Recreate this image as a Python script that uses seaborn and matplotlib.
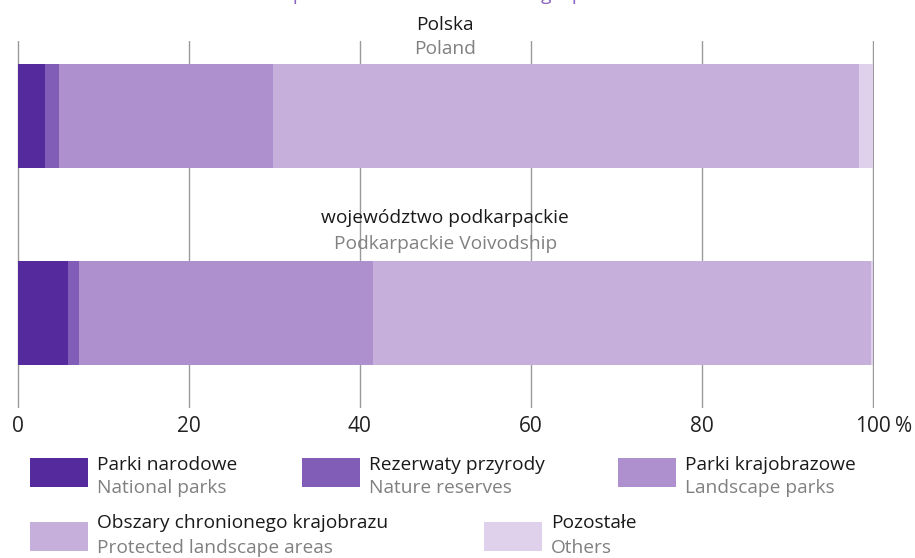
import pandas as pd
import seaborn as sns
import matplotlib.pyplot as plt
from matplotlib.patches import Rectangle

# dane (udzial w %)
regions = ['Polska', 'województwo podkarpackie']
regions_en = ['Poland', 'Podkarpackie Voivodship']

categories = ['Parki narodowe', 'Rezerwaty przyrody', 'Parki krajobrazowe',
              'Obszary chronionego krajobrazu', 'Pozostałe']
categories_en = ['National parks', 'Nature reserves', 'Landscape parks',
                 'Protected landscape areas', 'Others']

national_parks = [3.2, 5.9]
nature_reserves = [1.6, 1.3]
landscape_parks = [25.1, 34.3]
protected_landscape = [68.4, 58.2]
others = [1.7, 0.3]

ticks = [0, 20, 40, 60, 80, 100]
colors = ['#552a9c', '#815db8', '#ae90ce', '#c6afdb', '#dfd0ec']

df = pd.DataFrame({'region': regions})
for cat, vals in zip(categories, [national_parks, nature_reserves, landscape_parks,
                                  protected_landscape, others]):
    df[cat] = vals
cum = df[categories].cumsum(axis=1)
cum['region'] = regions

W, H = 915, 558
fig = plt.figure(figsize=(W / 100, H / 100), dpi=100)
plt.rcParams['font.family'] = ['Open Sans', 'DejaVu Sans']
FS = 13.8

def fx(px):
    return px / W

def fy(py):
    return 1 - py / H

ax = fig.add_axes([fx(16.7), fy(408), fx(874) - fx(16.7), (408 - 41) / H])

# stos: najpierw najdluzsze sumy, potem krotsze na wierzchu
for cat, col in reversed(list(zip(categories, colors))):
    sns.barplot(data=cum, x=cat, y='region', color=col, saturation=1,
                orient='h', width=0.53, errorbar=None, ax=ax)

ax.set_xlim(-0.1, 100.1)
ax.set_ylim(1.482, -0.38)
ax.set_xticks(ticks)
ax.set_xticklabels([str(t) for t in ticks])
ax.set_yticks([])
ax.set_xlabel('')
ax.set_ylabel('')
for s in ax.spines.values():
    s.set_visible(False)
ax.grid(axis='x', color='#9a9a9a', lw=1)
ax.set_axisbelow(True)
ax.tick_params(axis='x', length=0, pad=6, labelsize=15, labelcolor='#222222')
ax.annotate('%', xy=(103.6, 0), xycoords=('data', 'axes fraction'),
            xytext=(0, -6), textcoords='offset points', ha='center', va='top',
            fontsize=15, color='#222222', annotation_clip=False)

# podpisy regionow
label_y = [(-0.461, -0.339), (0.518, 0.650)]
for (pl, en), (y1, y2) in zip(zip(regions, regions_en), label_y):
    ax.text(50, y1, pl, ha='center', va='center', fontsize=FS, color='#1a1a1a', clip_on=False)
    ax.text(50, y2, en, ha='center', va='center', fontsize=FS, color='#808080', clip_on=False)

# ucięty tytul u gory
fig.text(fx(-4), fy(0.5), 'Chart 3. Structure of the area of special nature value under legal protection in 2015',
         ha='left', va='baseline', fontsize=FS, color='#8a63c0')

# legenda
leg = [(30, 458, 465, 488), (302, 458, 465, 488), (618, 458, 465, 488),
       (30, 522, 523, 548), (484, 522, 523, 548)]
for (x0, ytop, yt1, yt2), cat, cat_en, col in zip(leg, categories, categories_en, colors):
    fig.patches.append(Rectangle((fx(x0), fy(ytop + 29)), 58 / W, 29 / H,
                                 transform=fig.transFigure, color=col, lw=0))
    fig.text(fx(x0 + 67), fy(yt1), cat, ha='left', va='center', fontsize=FS, color='#1a1a1a')
    fig.text(fx(x0 + 67), fy(yt2), cat_en, ha='left', va='center', fontsize=FS, color='#808080')

fig.savefig('out.png', dpi=100)
